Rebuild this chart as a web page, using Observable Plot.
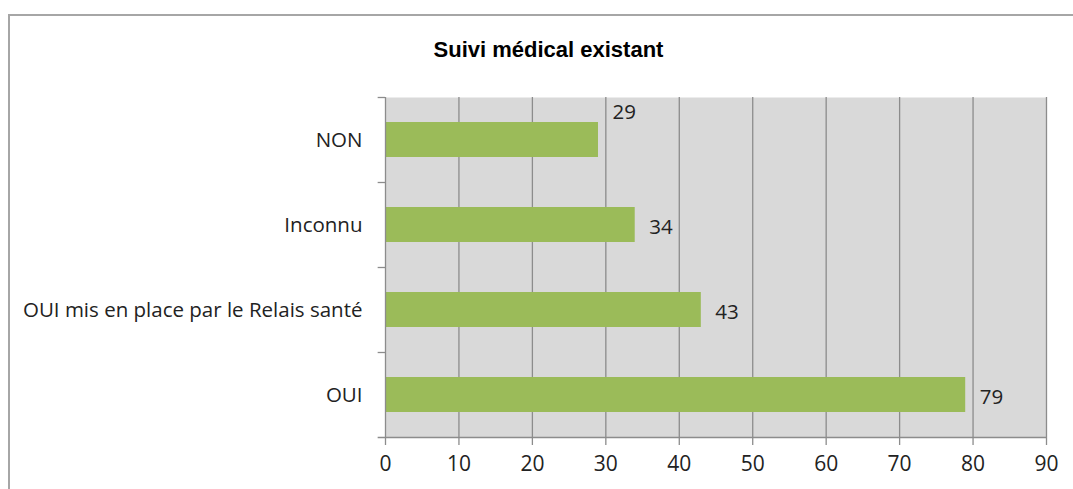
<!DOCTYPE html>
<html>
<head>
<meta charset="utf-8">
<script src="https://cdn.jsdelivr.net/npm/d3@7"></script>
<script src="https://cdn.jsdelivr.net/npm/@observablehq/plot@0.6"></script>
<style>
  html, body { margin: 0; padding: 0; background: #fff; }
  #wrap { position: relative; width: 1073px; height: 489px; overflow: hidden; }
  #frame { position: absolute; left: 8px; top: 14px; width: 1200px; height: 600px; border: 2px solid #a6a6a6; box-sizing: border-box; }
  #title { position: absolute; left: 0; width: 1097px; top: 39px; line-height: 22px; text-align: center; font-family: "Liberation Sans", Arial, sans-serif; font-weight: bold; font-size: 22px; color: #000; }
  #chart { position: absolute; left: 0; top: 0; }
</style>
</head>
<body>
<div id="wrap">
  <div id="frame"></div>
  <div id="title">Suivi médical existant</div>
  <div id="chart"></div>
</div>
<script>
const categories = ["NON", "Inconnu", "OUI mis en place par le Relais santé", "OUI"];
const values = [29, 34, 43, 79];
const xTicks = [0, 10, 20, 30, 40, 50, 60, 70, 80, 90];

const data = categories.map((c, i) => ({category: c, value: values[i]}));

const W = 1073, H = 489;
const mL = 385, mR = 27, mT = 97, mB = 52;
const step = (H - mT - mB) / categories.length;
const font = "Open Sans, sans-serif";
const ink = "#222";
const gridColor = "#8c8c8c";

const plot = Plot.plot({
  width: W,
  height: H,
  marginLeft: mL,
  marginRight: mR,
  marginTop: mT,
  marginBottom: mB,
  style: {fontFamily: font, fontSize: "20px", color: ink, background: "transparent", overflow: "visible"},
  x: {domain: [0, 90], ticks: xTicks},
  y: {domain: categories, paddingInner: 0.59, paddingOuter: 0.295},
  marks: [
    Plot.frame({fill: "#d9d9d9", stroke: null}),
    Plot.ruleX(xTicks.filter(d => d > 0), {stroke: gridColor, strokeWidth: 1.3}),
    Plot.barX(data, {x: "value", y: "category", fill: "#9bbb59"}),
    Plot.ruleX([0], {stroke: gridColor, strokeWidth: 1.3}),
    Plot.ruleY(categories, {y: d => d, dy: -step / 2, x1: -1, x2: 0, stroke: gridColor, strokeWidth: 1.3}),
    Plot.ruleY([categories[categories.length - 1]], {y: d => d, dy: step / 2, x1: -1, x2: 90, stroke: gridColor, strokeWidth: 1.3}),
    Plot.axisX({ticks: xTicks, tickSize: 8, tickPadding: 11, stroke: gridColor, strokeWidth: 1.3, fontSize: 21, fill: ink, label: null, tickFormat: d => String(d)}),
    Plot.axisY({tickSize: 0, tickPadding: 23, fontSize: 20.5, fill: ink, label: null}),
    Plot.text(data.filter(d => d.category === "NON"), {x: "value", y: "category", text: d => String(d.value), dx: 14, dy: -28, textAnchor: "start", fontSize: 20.5, fill: ink}),
    Plot.text(data.filter(d => d.category !== "NON"), {x: "value", y: "category", text: d => String(d.value), dx: 14, dy: 2, textAnchor: "start", fontSize: 20.5, fill: ink})
  ]
});
document.getElementById("chart").appendChild(plot);
</script>
</body>
</html>
